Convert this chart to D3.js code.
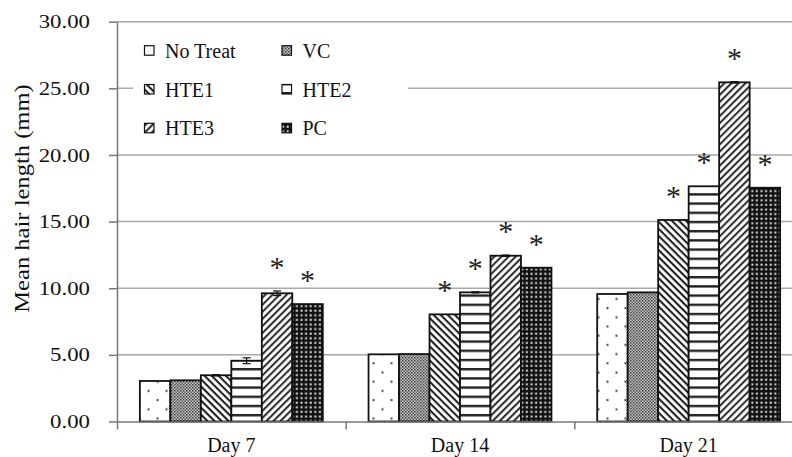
<!DOCTYPE html>
<html>
<head>
<meta charset="utf-8">
<script src="https://cdn.jsdelivr.net/npm/d3@7"></script>
<style>
  body { margin: 0; background: #fff; }
</style>
</head>
<body>
<svg id="chart" width="792" height="457" font-family="Liberation Serif, Times New Roman, serif"></svg>
<script>
// ---- data ----
const days = ["Day 7", "Day 14", "Day 21"];
const groups = ["No Treat", "VC", "HTE1", "HTE2", "HTE3", "PC"];

const noTreat = [3.04, 5.04, 9.57];
const vc      = [3.09, 5.06, 9.69];
const hte1    = [3.47, 8.04, 15.12];
const hte2    = [4.56, 9.69, 17.65];
const hte3    = [9.62, 12.44, 25.45];
const pc      = [8.81, 11.54, 17.54];

// standard error of each mean
const errNoTreat = [0, 0, 0];
const errVc      = [0, 0, 0];
const errHte1    = [0.05, 0, 0];
const errHte2    = [0.22, 0.04, 0];
const errHte3    = [0.17, 0.05, 0.05];
const errPc      = [0, 0, 0];

// significant difference vs. control
const sigNoTreat = [false, false, false];
const sigVc      = [false, false, false];
const sigHte1    = [false, true, true];
const sigHte2    = [false, true, true];
const sigHte3    = [true, true, true];
const sigPc      = [true, true, true];

const yTicks = [0, 5, 10, 15, 20, 25, 30];

const values = [noTreat, vc, hte1, hte2, hte3, pc];
const errors = [errNoTreat, errVc, errHte1, errHte2, errHte3, errPc];
const sigs   = [sigNoTreat, sigVc, sigHte1, sigHte2, sigHte3, sigPc];

const rows = [];
days.forEach((d, i) => groups.forEach((g, j) => {
  rows.push({ day: d, group: g, gi: j, value: values[j][i], err: errors[j][i], sig: sigs[j][i] });
}));

// ---- layout ----
const FONT = "Liberation Serif, Times New Roman, serif";
const INK = "#111";
const svg = d3.select("#chart");
const plotL = 117, plotR = 803, plotT = 21.7, plotB = 421.5;

const x = d3.scaleBand().domain(days).range([plotL, plotR]).paddingInner(0.2).paddingOuter(0.1);
const x1 = d3.scaleBand().domain(groups).range([0, x.bandwidth()]);
const xEdge = d3.scaleLinear().domain([0, days.length]).range([plotL, plotR]);
const y = d3.scaleLinear().domain([0, 30]).range([plotB, plotT]);

// ---- fill patterns ----
const defs = svg.append("defs");
const fillId = ["pNoTreat", "pVc", "pHte1", "pHte2", "pHte3", "pPc"];

// sparse dots
let p = defs.append("pattern").attr("id", "pNoTreat").attr("patternUnits", "userSpaceOnUse")
  .attr("width", 18).attr("height", 18.4);
p.append("rect").attr("width", 18).attr("height", 18.4).attr("fill", "#fff");
p.append("rect").attr("x", 3.5).attr("y", 3.5).attr("width", 2).attr("height", 2).attr("fill", "#444");
p.append("rect").attr("x", 12.5).attr("y", 12.7).attr("width", 2).attr("height", 2).attr("fill", "#444");

// fine checker
p = defs.append("pattern").attr("id", "pVc").attr("patternUnits", "userSpaceOnUse")
  .attr("width", 3).attr("height", 3);
p.append("rect").attr("width", 3).attr("height", 3).attr("fill", "#c8c8c8");
p.append("rect").attr("width", 1.5).attr("height", 1.5).attr("fill", "#3a3a3a");
p.append("rect").attr("x", 1.5).attr("y", 1.5).attr("width", 1.5).attr("height", 1.5).attr("fill", "#5a5a5a");

// downward diagonal
p = defs.append("pattern").attr("id", "pHte1").attr("patternUnits", "userSpaceOnUse")
  .attr("width", 6).attr("height", 5).attr("patternTransform", "rotate(45)");
p.append("rect").attr("width", 6).attr("height", 5).attr("fill", "#fff");
p.append("rect").attr("width", 6).attr("height", 2.1).attr("fill", "#222");

// horizontal lines
p = defs.append("pattern").attr("id", "pHte2").attr("patternUnits", "userSpaceOnUse")
  .attr("width", 10).attr("height", 9.2);
p.append("rect").attr("width", 10).attr("height", 9.2).attr("fill", "#fff");
p.append("rect").attr("y", 0).attr("width", 10).attr("height", 2.4).attr("fill", "#222");

// upward diagonal
p = defs.append("pattern").attr("id", "pHte3").attr("patternUnits", "userSpaceOnUse")
  .attr("width", 6).attr("height", 5).attr("patternTransform", "rotate(-45)");
p.append("rect").attr("width", 6).attr("height", 5).attr("fill", "#fff");
p.append("rect").attr("width", 6).attr("height", 2.1).attr("fill", "#333");

// dark grid
p = defs.append("pattern").attr("id", "pPc").attr("patternUnits", "userSpaceOnUse")
  .attr("width", 4.6).attr("height", 4.6);
p.append("rect").attr("width", 4.6).attr("height", 4.6).attr("fill", "#111");
p.append("rect").attr("x", 1.5).attr("y", 1.5).attr("width", 2).attr("height", 2).attr("fill", "#e0e0e0");

// ---- gridlines ----
svg.append("g").selectAll("line").data(yTicks.filter(t => t > 0)).join("line")
  .attr("x1", plotL).attr("x2", plotR)
  .attr("y1", d => y(d)).attr("y2", d => y(d))
  .attr("stroke", "#a8a8a8").attr("stroke-width", 1.5);

// ---- legend ----
const legend = svg.append("g");
legend.append("rect").attr("x", 133).attr("y", 30).attr("width", 275).attr("height", 118).attr("fill", "#fff");
const legX = [144.5, 282], legY = [50.7, 89.5, 128.3];
groups.forEach((g, j) => {
  const lx = legX[j % 2], ly = legY[Math.floor(j / 2)];
  legend.append("rect").attr("x", lx).attr("y", ly - 5).attr("width", 9.5).attr("height", 9.5)
    .attr("fill", `url(#${fillId[j]})`).attr("stroke", INK).attr("stroke-width", 1.2);
  legend.append("text").attr("x", lx + 20.5).attr("y", ly + 7)
    .attr("font-family", FONT).attr("font-size", 20).attr("fill", INK).text(g);
});

// ---- bars ----
const barG = svg.append("g");
barG.selectAll("rect").data(rows).join("rect")
  .attr("x", d => x(d.day) + x1(d.group))
  .attr("y", d => y(d.value))
  .attr("width", x1.bandwidth())
  .attr("height", d => y(0) - y(d.value))
  .attr("fill", d => `url(#${fillId[d.gi]})`)
  .attr("stroke", INK).attr("stroke-width", 1.8);

// ---- error bars ----
const errG = svg.append("g").attr("stroke", INK).attr("stroke-width", 1.2);
rows.filter(d => d.err > 0).forEach(d => {
  const cx = x(d.day) + x1(d.group) + x1.bandwidth() / 2;
  errG.append("line").attr("x1", cx).attr("x2", cx).attr("y1", y(d.value - d.err)).attr("y2", y(d.value + d.err));
  errG.append("line").attr("x1", cx - 4).attr("x2", cx + 4).attr("y1", y(d.value + d.err)).attr("y2", y(d.value + d.err));
  errG.append("line").attr("x1", cx - 4).attr("x2", cx + 4).attr("y1", y(d.value - d.err)).attr("y2", y(d.value - d.err));
});

// ---- significance marks ----
svg.append("g").selectAll("text").data(rows.filter(d => d.sig)).join("text")
  .attr("x", d => x(d.day) + x1(d.group) + x1.bandwidth() / 2)
  .attr("y", d => y(d.value + d.err) - 28 + 14)
  .attr("text-anchor", "middle").attr("font-family", FONT).attr("font-size", 30).attr("fill", "#222")
  .text("*");

// ---- axes ----
const yAxis = svg.append("g").attr("transform", `translate(${plotL},0)`)
  .call(d3.axisLeft(y).tickValues(yTicks).tickFormat(d3.format(".2f")).tickSize(8).tickSizeOuter(0).tickPadding(19));
yAxis.attr("font-family", FONT);
yAxis.select(".domain").attr("stroke", "#777").attr("stroke-width", 1.5);
yAxis.selectAll(".tick line").attr("stroke", "#777").attr("stroke-width", 1.5);
// tick labels are set slightly wide
yAxis.selectAll(".tick text")
  .attr("font-size", 19).attr("fill", INK)
  .attr("x", 0).attr("transform", "translate(-27,0) scale(1.2,1)");

const xAxis = svg.append("g").attr("transform", `translate(0,${plotB})`)
  .call(d3.axisBottom(xEdge).tickValues(d3.range(days.length + 1)).tickFormat("").tickSize(8).tickSizeOuter(0));
xAxis.select(".domain").attr("stroke", "#777").attr("stroke-width", 1.5);
xAxis.selectAll(".tick line").attr("stroke", "#777").attr("stroke-width", 1.5);

svg.append("g").selectAll("text").data(days).join("text")
  .attr("x", d => x(d) + x.bandwidth() / 2)
  .attr("y", 451.5)
  .attr("text-anchor", "middle").attr("font-family", FONT).attr("font-size", 20).attr("fill", INK)
  .text(d => d);

svg.append("text")
  .attr("transform", `translate(29,198.5) rotate(-90) scale(1.17,1)`)
  .attr("text-anchor", "middle").attr("font-family", FONT).attr("font-size", 21).attr("fill", INK)
  .text("Mean hair length (mm)");
</script>
</body>
</html>
